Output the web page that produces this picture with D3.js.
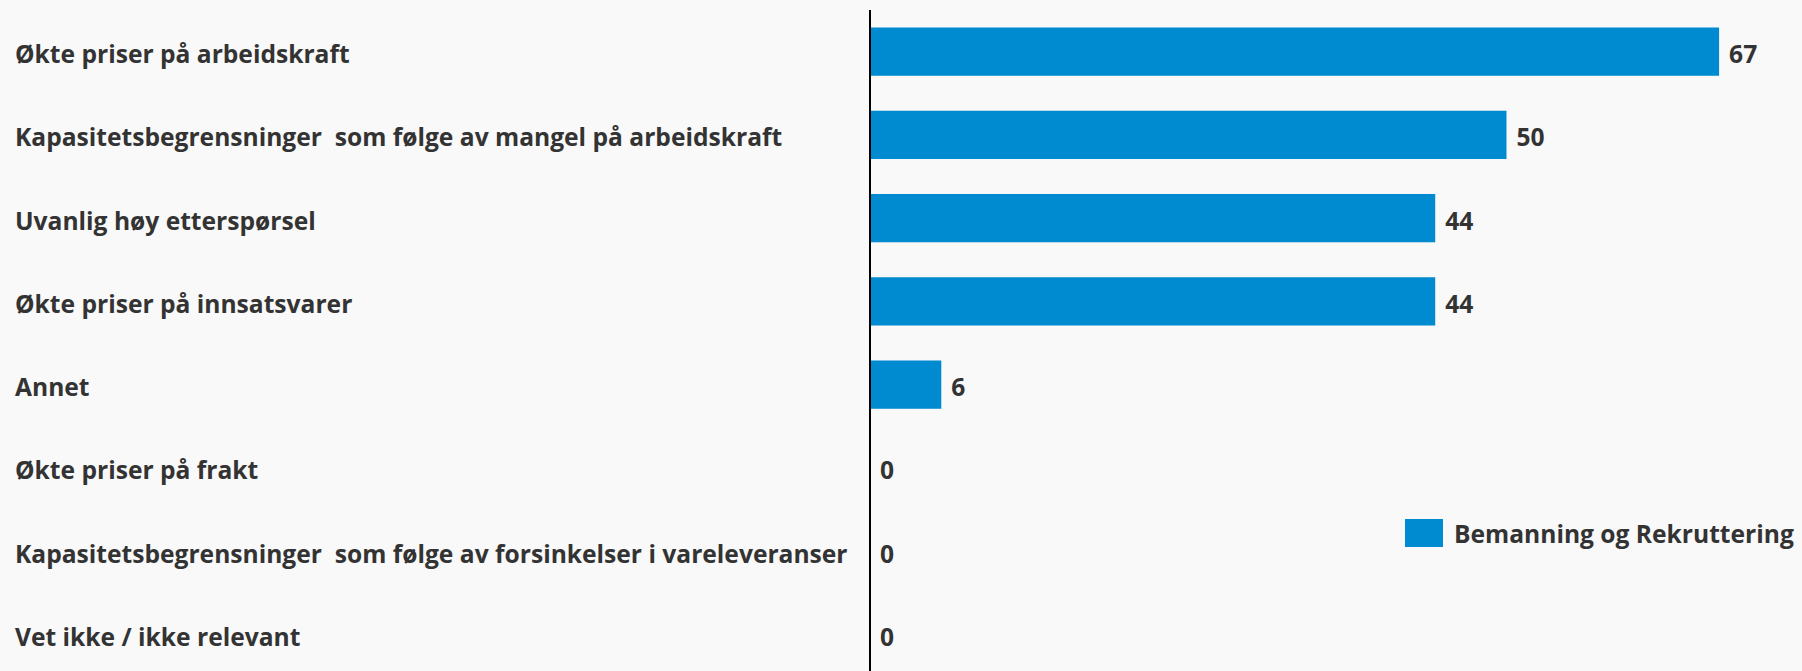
<!DOCTYPE html>
<html>
<head>
<meta charset="utf-8">
<script src="https://cdn.jsdelivr.net/npm/d3@7/dist/d3.min.js"></script>
<style>
  html, body { margin: 0; padding: 0; background: #f9f9f9; }
  svg { display: block; }
  text { font-family: "Open Sans", Lato, sans-serif; font-weight: 700; fill: #333333; white-space: pre; }
</style>
</head>
<body>
<svg id="chart" width="1802" height="671"></svg>
<script>
const categories = [
  "Økte priser på arbeidskraft",
  "Kapasitetsbegrensninger  som følge av mangel på arbeidskraft",
  "Uvanlig høy etterspørsel",
  "Økte priser på innsatsvarer",
  "Annet",
  "Økte priser på frakt",
  "Kapasitetsbegrensninger  som følge av forsinkelser i vareleveranser",
  "Vet ikke / ikke relevant"
];
const values = [66.7, 50, 44.4, 44.4, 5.6, 0, 0, 0];
const seriesName = "Bemanning og Rekruttering";

const W = 1802, H = 671;
const svg = d3.select("#chart");
svg.append("rect").attr("width", W).attr("height", H).attr("fill", "#f9f9f9");

const x = d3.scaleLinear().domain([0, 70]).range([870, 870 + 70 * 12.73]);
const y = d3.scaleBand().domain(categories).range([10, 676]).paddingInner(0.42).paddingOuter(0.21);

const fmt = d3.format(".0f");
const fs = 24.6;

// bars
svg.selectAll("rect.bar").data(values).enter().append("rect")
  .attr("class", "bar")
  .attr("x", x(0))
  .attr("y", (d, i) => y(categories[i]))
  .attr("width", d => x(d) - x(0))
  .attr("height", y.bandwidth())
  .attr("fill", "#008ACF");

// category labels
svg.selectAll("text.cat").data(categories).enter().append("text")
  .attr("class", "cat")
  .attr("x", 15)
  .attr("y", d => y(d) + y.bandwidth() / 2 + 11.5)
  .style("font-size", fs + "px")
  .text(d => d);

// value labels
svg.selectAll("text.val").data(values).enter().append("text")
  .attr("class", "val")
  .attr("x", d => x(d) + 10)
  .attr("y", (d, i) => y(categories[i]) + y.bandwidth() / 2 + 11.5)
  .style("font-size", fs + "px")
  .text(d => fmt(d));

// axis line
svg.append("line")
  .attr("x1", x(0)).attr("x2", x(0))
  .attr("y1", 10).attr("y2", H)
  .attr("stroke", "#000").attr("stroke-width", 2);

// legend
const lg = svg.append("g").attr("transform", "translate(1405,519)");
lg.append("rect").attr("width", 38).attr("height", 28).attr("fill", "#008ACF");
lg.append("text").attr("x", 49).attr("y", 24).style("font-size", fs + "px").text(seriesName);
</script>
</body>
</html>
